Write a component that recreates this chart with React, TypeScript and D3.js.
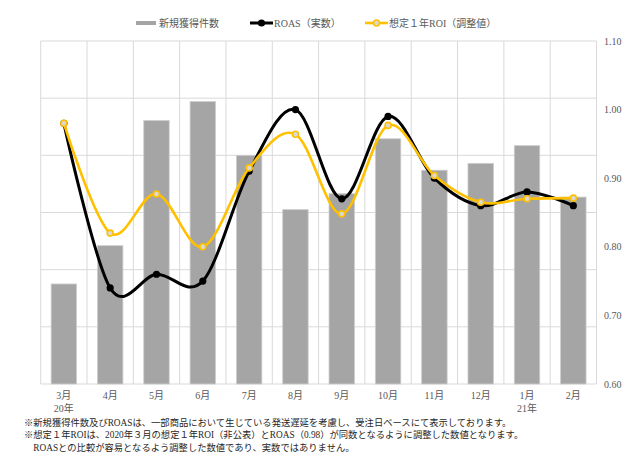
import React from "react";
import * as d3 from "d3";

const months = ["3月", "4月", "5月", "6月", "7月", "8月", "9月", "10月", "11月", "12月", "1月", "2月"];
const yearLabels = ["20年", "", "", "", "", "", "", "", "", "", "21年", ""];
const newAcquisitions = [1.75, 2.42, 4.61, 4.94, 4.0, 3.05, 3.33, 4.29, 3.74, 3.86, 4.17, 3.27];
const roasActual = [0.98, 0.74, 0.76, 0.75, 0.91, 1.0, 0.87, 0.99, 0.9, 0.86, 0.88, 0.86];
const roiAdjusted = [0.98, 0.82, 0.877, 0.8, 0.915, 0.964, 0.848, 0.977, 0.904, 0.865, 0.87, 0.871];
const rightTicks = [0.6, 0.7, 0.8, 0.9, 1.0, 1.1];
const leftGridTicks = [0, 1, 2, 3, 4, 5, 6];
const legendLabels = ["新規獲得件数", "ROAS（実数）", "想定１年ROI（調整値）"];
const footnotes = [
  "※新規獲得件数及びROASは、一部商品において生じている発送遅延を考慮し、受注日ベースにて表示しております。",
  "※想定１年ROIは、2020年３月の想定１年ROI（非公表）とROAS（0.98）が同数となるように調整した数値となります。",
  "　ROASとの比較が容易となるよう調整した数値であり、実数ではありません。",
];

const W = 633;
const H = 459;
const plotLeft = 40.7;
const plotRight = 596.5;
const plotTop = 41;
const plotBottom = 384;

const FONT = "'Liberation Serif', 'Noto Sans CJK JP', serif";
const GRID = "#d9d9d9";
const BAR = "#a5a5a5";
const YELLOW = "#ffc000";

export default function App() {
  const x = d3.scaleBand<string>().domain(months).range([plotLeft, plotRight]).paddingInner(0).paddingOuter(0);
  const yL = d3.scaleLinear().domain([0, 6]).range([plotBottom, plotTop]);
  const yR = d3.scaleLinear().domain([0.6, 1.1]).range([plotBottom, plotTop]);
  const bw = x.bandwidth();
  const barW = bw * 0.55;
  const cx = (i: number) => (x(months[i]) as number) + bw / 2;

  const line = d3
    .line<number>()
    .x((_, i) => cx(i))
    .y((d) => yR(d))
    .curve(d3.curveCardinal.tension(0));

  const boundaries = months.map((m) => x(m) as number).concat([plotRight]);

  return (
    <svg width={W} height={H} style={{ position: "absolute", left: 0, top: 0, background: "#fff" }} fontFamily={FONT}>
      {leftGridTicks.map((t) => (
        <line key={"h" + t} x1={plotLeft} x2={plotRight} y1={yL(t)} y2={yL(t)} stroke={GRID} strokeWidth={1} />
      ))}
      {boundaries.map((b, i) => (
        <line key={"v" + i} x1={b} x2={b} y1={plotTop} y2={plotBottom} stroke={GRID} strokeWidth={1} />
      ))}
      {newAcquisitions.map((v, i) => (
        <rect
          key={"b" + i}
          x={cx(i) - barW / 2}
          y={yL(v)}
          width={barW}
          height={yL(0) - yL(v)}
          fill={BAR}
          stroke="#cfcfcf"
          strokeWidth={0.8}
        />
      ))}
      <path d={line(roasActual) || ""} fill="none" stroke="#000" strokeWidth={3} />
      {roasActual.map((v, i) => (
        <circle key={"r" + i} cx={cx(i)} cy={yR(v)} r={3.6} fill="#000" />
      ))}
      <path d={line(roiAdjusted) || ""} fill="none" stroke={YELLOW} strokeWidth={2.6} />
      {roiAdjusted.map((v, i) => (
        <circle key={"y" + i} cx={cx(i)} cy={yR(v)} r={3} fill="#d9d9d9" stroke={YELLOW} strokeWidth={1.6} />
      ))}
      {rightTicks.map((t) => (
        <text key={"rt" + t} x={604} y={yR(t) + 3.5} fontSize={10} fill="#595959">
          {t.toFixed(2)}
        </text>
      ))}
      {months.map((m, i) => (
        <text key={"m" + i} x={cx(i)} y={398.5} fontSize={10} fill="#595959" textAnchor="middle">
          {m}
        </text>
      ))}
      {yearLabels.map((yl, i) =>
        yl ? (
          <text key={"yl" + i} x={cx(i)} y={412} fontSize={10} fill="#595959" textAnchor="middle">
            {yl}
          </text>
        ) : null
      )}
      <g>
        <line x1={136} x2={156} y1={23} y2={23} stroke={BAR} strokeWidth={4} />
        <text x={159} y={26.5} fontSize={10} fill="#595959">{legendLabels[0]}</text>
        <line x1={250} x2={273} y1={23} y2={23} stroke="#000" strokeWidth={3} />
        <circle cx={261.5} cy={23} r={3.6} fill="#000" />
        <text x={274} y={26.5} fontSize={10} fill="#595959">{legendLabels[1]}</text>
        <line x1={365} x2={388} y1={23} y2={23} stroke={YELLOW} strokeWidth={2.6} />
        <circle cx={376.5} cy={23} r={3} fill="#d9d9d9" stroke={YELLOW} strokeWidth={1.6} />
        <text x={389} y={26.5} fontSize={10} fill="#595959">{legendLabels[2]}</text>
      </g>
      {footnotes.map((f, i) => (
        <text key={"f" + i} x={24} y={425.5 + i * 12.8} fontSize={9.3} fill="#262626">
          {f}
        </text>
      ))}
    </svg>
  );
}
